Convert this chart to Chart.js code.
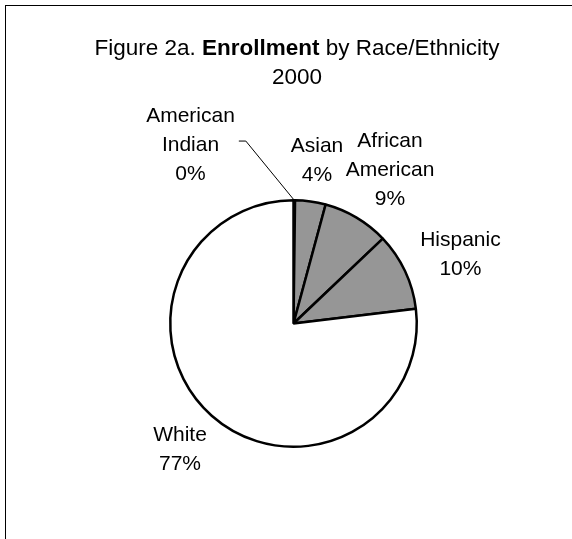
<!DOCTYPE html>
<html>
<head>
<meta charset="utf-8">
<script src="https://cdn.jsdelivr.net/npm/chart.js@4.4.1/dist/chart.umd.min.js"></script>
<style>
  html, body { margin: 0; padding: 0; background: #fff; }
  canvas { display: block; }
</style>
</head>
<body>
<canvas id="pieChart" width="572" height="539"></canvas>
<script>
// data (percent of enrollment, 2000)
const categories = ['American Indian', 'Asian', 'African American', 'Hispanic', 'White'];
const labelLines = [['American', 'Indian'], ['Asian'], ['African', 'American'], ['Hispanic'], ['White']];
const enrollment = [0.2, 4.0, 8.7, 10.2, 76.9];
const sliceColors = ['#969696', '#969696', '#969696', '#969696', '#ffffff'];

const titleParts = [
  { text: 'Figure 2a. ', bold: false },
  { text: 'Enrollment', bold: true },
  { text: ' by Race/Ethnicity', bold: false }
];
const titleLine2 = '2000';

const FONT = '"Liberation Sans", Arial, sans-serif';

// frame + title
const framePlugin = {
  id: 'frame-title',
  beforeDraw: (chart) => {
    const ctx = chart.ctx;
    ctx.save();
    ctx.fillStyle = '#fff';
    ctx.fillRect(0, 0, chart.width, chart.height);
    ctx.strokeStyle = '#000';
    ctx.lineWidth = 1;
    ctx.strokeRect(5.5, 5.5, 800, 800); // right/bottom edges fall off the canvas
    ctx.restore();
  },
  afterDraw: (chart) => {
    const ctx = chart.ctx;
    const cx = 297;
    ctx.save();
    ctx.fillStyle = '#000';
    ctx.textBaseline = 'alphabetic';
    // measure the mixed regular/bold line
    let total = 0;
    titleParts.forEach(p => {
      ctx.font = (p.bold ? 'bold ' : '') + '22.5px ' + FONT;
      p.w = ctx.measureText(p.text).width;
      total += p.w;
    });
    let x = cx - total / 2;
    ctx.textAlign = 'left';
    titleParts.forEach(p => {
      ctx.font = (p.bold ? 'bold ' : '') + '22.5px ' + FONT;
      ctx.fillText(p.text, x, 55);
      x += p.w;
    });
    ctx.font = '22.5px ' + FONT;
    ctx.textAlign = 'center';
    ctx.fillText(titleLine2, cx, 84);
    ctx.restore();
  }
};

// outside labels, Excel style
const labelPlugin = {
  id: 'pie-labels',
  afterDatasetsDraw: (chart) => {
    const ctx = chart.ctx;
    const meta = chart.getDatasetMeta(0);
    const lineH = 29, capH = 15;
    ctx.save();
    ctx.font = '21px ' + FONT;
    ctx.fillStyle = '#000';
    ctx.textBaseline = 'alphabetic';
    meta.data.forEach((arc, i) => {
      const { x, y, startAngle, endAngle, outerRadius } = arc.getProps(['x', 'y', 'startAngle', 'endAngle', 'outerRadius'], true);
      const mid = (startAngle + endAngle) / 2;
      const lines = labelLines[i].concat([Math.round(enrollment[i]) + '%']);
      const w = Math.max(...lines.map(s => ctx.measureText(s).width));
      const h = capH + lineH * (lines.length - 1);
      let bx, by; // block centre
      if (enrollment[i] < 1) {
        // tiny slice: leader line up and to the left
        const ex = x + Math.cos(mid) * outerRadius;
        const ey = y + Math.sin(mid) * outerRadius;
        const a2 = mid - 15 * Math.PI / 180;
        const kx = x + Math.cos(a2) * outerRadius * 1.53;
        const ky = y + Math.sin(a2) * outerRadius * 1.53;
        ctx.save();
        ctx.strokeStyle = '#000';
        ctx.lineWidth = 1;
        ctx.beginPath();
        ctx.moveTo(ex, ey);
        ctx.lineTo(kx, ky);
        ctx.lineTo(kx - 7, ky);
        ctx.stroke();
        ctx.restore();
        bx = kx - 11 - w / 2;
        by = ky + 2.5;
      } else {
        const ux = Math.cos(mid), uy = Math.sin(mid);
        const d = outerRadius * 1.17;
        bx = x + ux * d + ux * w / 2;
        by = y + uy * d + uy * h / 2;
      }
      ctx.textAlign = 'center';
      const top = by - h / 2 + capH;
      lines.forEach((s, k) => ctx.fillText(s, bx, top + k * lineH));
    });
    ctx.restore();
  }
};

const pieChart = new Chart(document.getElementById('pieChart'), {
  type: 'pie',
  data: {
    labels: categories,
    datasets: [{
      data: enrollment,
      backgroundColor: sliceColors,
      borderColor: '#000',
      borderWidth: 2.5
    }]
  },
  options: {
    responsive: false,
    animation: false,
    layout: { padding: { top: 199, bottom: 91, left: 169, right: 154 } },
    plugins: {
      legend: { display: false },
      tooltip: { enabled: false },
      title: { display: false }
    }
  },
  plugins: [framePlugin, labelPlugin]
});
</script>
</body>
</html>
